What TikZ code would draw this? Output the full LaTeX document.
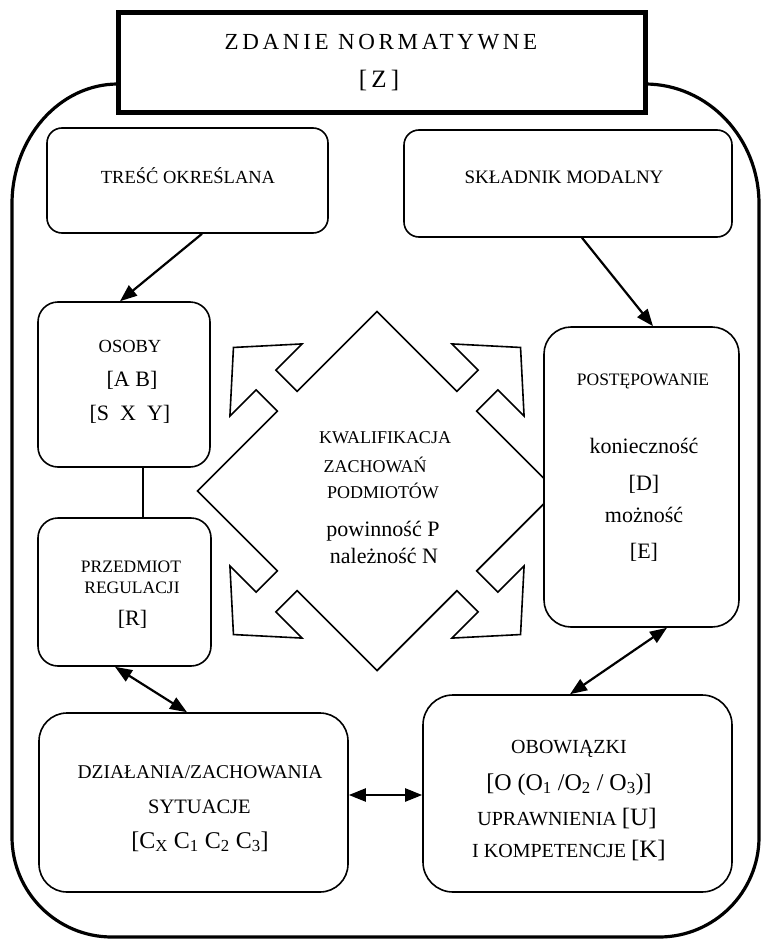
\documentclass[tikz,border=0pt]{standalone}
\usepackage{fontspec}
\setmainfont{Liberation Serif}
\newfontfamily\spacedfont[LetterSpace=16]{Liberation Serif}
\usetikzlibrary{arrows.meta}
\newcommand\setfs[1]{\fontsize{#1}{#1}\selectfont}

\tikzset{
  frame/.style={line width=3.2pt},
  titlebox/.style={draw, line width=5pt, fill=white, inner sep=0pt},
  box/.style={draw, line width=1.6pt, fill=white, inner sep=0pt},
  quad/.style={draw, line width=1.6pt, line join=miter},
  lbl/.style={anchor=base, inner sep=0pt},
  conn/.style={line width=2.2pt, -{Triangle[length=17pt,width=13pt]}},
  bidir/.style={line width=2.2pt, {Triangle[length=17pt,width=13pt]}-{Triangle[length=17pt,width=13pt]}},
  plain/.style={line width=2.2pt}
}

\begin{document}
\begin{tikzpicture}[x=1pt,y=-1pt]
\useasboundingbox (0,0) rectangle (763,939);

% outer rounded frame, its ends disappear behind the heading box
\draw[frame] (118,84) .. controls (59.5,84) and (12,137.8) .. (12,204)
  -- (12,837) .. controls (12,892.2) and (56.8,937) .. (112,937)
  -- (659,937) .. controls (714.2,937) and (759,892.2) .. (759,837)
  -- (759,204) .. controls (759,137.8) and (707.9,84) .. (645,84);

% heading
\node[titlebox, minimum width=527pt, minimum height=100pt] (title) at (381.5,63) {};
\node[lbl] (titleA) at (381,50) {\spacedfont\setfs{23}ZDANIE NORMATYWNE};
\node[lbl] (titleB) at (379,88) {\setfs{25}[\,Z\,]};

% central diamond with four outward arrows
\begin{scope}[shift={(377,491)}, rotate=45]
\draw[quad, fill=white]
  (-127,127) -- (-14,127) -- (-14,157) -- (-51,157) -- (0,203) -- (51,157) -- (14,157) -- (14,127) -- (127,127)
  -- (127,14) -- (157,14) -- (157,51) -- (203,0) -- (157,-51) -- (157,-14) -- (127,-14) -- (127,-127)
  -- (14,-127) -- (14,-157) -- (51,-157) -- (0,-203) -- (-51,-157) -- (-14,-157) -- (-14,-127) -- (-127,-127)
  -- (-127,-14) -- (-157,-14) -- (-157,-51) -- (-203,0) -- (-157,51) -- (-157,14) -- (-127,14) -- cycle;
\end{scope}
\node[lbl] (kw1) at (385,443) {\setfs{18}KWALIFIKACJA};
\node[lbl] (kw2) at (375,472) {\setfs{18}ZACHOWAŃ};
\node[lbl] (kw3) at (383,498) {\setfs{18}PODMIOTÓW};
\node[lbl] (kw4) at (383,536) {\setfs{22}powinność P};
\node[lbl] (kw5) at (384,563) {\setfs{22}należność N};

% upper boxes
\node[box, rounded corners=15pt, minimum width=281pt, minimum height=105pt] (tresc) at (187.5,180.5) {};
\node[lbl] (trescT) at (188,183) {\setfs{18.5}TREŚĆ OKREŚLANA};
\node[box, rounded corners=15pt, minimum width=328pt, minimum height=107pt] (sklad) at (568,183.5) {};
\node[lbl] (skladT) at (564,183) {\setfs{19}SKŁADNIK MODALNY};

% left column
\node[box, rounded corners=20pt, minimum width=172pt, minimum height=165pt] (osoby) at (124,384.5) {};
\node[lbl] (osoby1) at (130,352) {\setfs{18.5}OSOBY};
\node[lbl] (osoby2) at (132,386) {\setfs{22}[A B]};
\node[lbl] (osoby3) at (130,420) {\setfs{22}[S\ \ X\ \ Y]};

\node[box, rounded corners=20pt, minimum width=173pt, minimum height=148pt] (przed) at (124.5,592) {};
\node[lbl] (przed1) at (131,572) {\setfs{17.5}PRZEDMIOT};
\node[lbl] (przed2) at (132,593) {\setfs{17.5}REGULACJI};
\node[lbl] (przed3) at (132.5,625) {\setfs{22}[R]};

% right column
\node[box, rounded corners=27pt, minimum width=195pt, minimum height=300pt] (post) at (641.5,477) {};
\node[lbl] (post1) at (643,385) {\setfs{17.5}POSTĘPOWANIE};
\node[lbl] (post2) at (644,453) {\setfs{22}konieczność};
\node[lbl] (post3) at (644,490) {\setfs{22}[D]};
\node[lbl] (post4) at (644,522) {\setfs{22}możność};
\node[lbl] (post5) at (644,558) {\setfs{22}[E]};

% lower boxes
\node[box, rounded corners=28pt, minimum width=309pt, minimum height=179pt] (dzial) at (193.5,802.5) {};
\node[lbl] (dzial1) at (200,778) {\setfs{19.5}DZIAŁANIA/ZACHOWANIA};
\node[lbl] (dzial2) at (199.5,813) {\setfs{20.5}SYTUACJE};
\node[lbl] (dzial3) at (200,848) {\setfs{24}[C\textsubscript{X} C\textsubscript{1} C\textsubscript{2} C\textsubscript{3}]};

\node[box, rounded corners=30pt, minimum width=309pt, minimum height=197pt] (obow) at (577.5,793.5) {};
\node[lbl] (obow1) at (569,753) {\setfs{20}OBOWIĄZKI};
\node[lbl] (obow2) at (569,790) {\setfs{24}[O (O\textsubscript{1} /O\textsubscript{2} / O\textsubscript{3})]};
\node[lbl] (obow3) at (567,825) {\setfs{20}UPRAWNIENIA {\setfs{25}[U]}};
\node[lbl] (obow4) at (569,857) {\setfs{20}I KOMPETENCJE {\setfs{25}[K]}};

% connectors
\draw[conn] ([xshift=14.5pt]tresc.south) -- ([xshift=-4pt]osoby.north);
\draw[conn] ([xshift=14pt]sklad.south) -- ([xshift=11.5pt]post.north);
\draw[plain] ([xshift=19pt]osoby.south) -- ([xshift=18.5pt]przed.north);
\draw[bidir] ([xshift=-9.5pt]przed.south) -- ([xshift=-6.5pt]dzial.north);
\draw[bidir] ([xshift=25.5pt]post.south) -- ([xshift=-7.5pt]obow.north);
\draw[bidir] ([yshift=7.5pt]dzial.east) -- ([yshift=7.5pt]dzial.east -| obow.west);
\end{tikzpicture}
\end{document}
